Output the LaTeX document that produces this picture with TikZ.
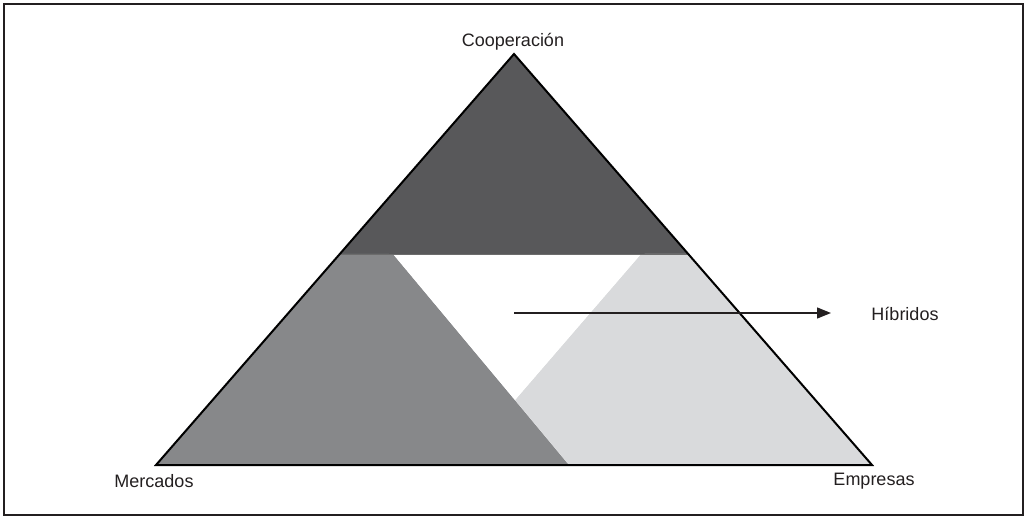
\documentclass[tikz,border=0pt]{standalone}
\usepackage{fontspec}
\setmainfont{Liberation Sans}
\usetikzlibrary{arrows.meta,calc}
\definecolor{darkg}{HTML}{58585A}
\definecolor{midg}{HTML}{87888A}
\definecolor{lightg}{HTML}{D9DADC}
\definecolor{frameg}{HTML}{231F20}
\tikzset{
  lbl/.style={font=\fontsize{18}{20}\selectfont, text=frameg, inner sep=0pt},
  edge/.style={draw=black, line width=2pt, line join=miter},
  arr/.style={draw=frameg, line width=1.3pt, -{Triangle[length=14pt,width=11pt]}}
}
\begin{document}
\begin{tikzpicture}[x=1pt,y=-1pt]
\useasboundingbox (0,0) rectangle (1026,516);
\draw[frameg, line width=2pt] (4,4) rectangle (1023,514.5);
% main vertices
\coordinate (A) at (514,54);
\coordinate (L) at (156,465);
\coordinate (R) at (872,465);
\coordinate (HL) at ($(A)!0.4866!(L)$);
\coordinate (HR) at ($(A)!0.4866!(R)$);
\coordinate (W1) at (393,254);
\coordinate (W2) at (641,254);
\coordinate (W3) at (515,400);
\coordinate (M) at (569,465);
% regions
\fill[darkg] (A) -- (HR) -- (HL) -- cycle;
\fill[midg] (HL) -- (W1) -- (M) -- (L) -- cycle;
\fill[lightg] (W2) -- (HR) -- (R) -- (M) -- (W3) -- cycle;
\fill[white] (W1) -- (W2) -- (W3) -- cycle;
\draw[color=gray!85!black, line width=0.8pt] (HL) -- (HR);
% outline
\draw[edge] (A) -- (R) -- (L) -- cycle;
% labels
\node[lbl] (coop) at (513,42) {Cooperación};
\node[lbl] (merc) at (154,481) {Mercados};
\node[lbl] (emp) at (874,481) {Empresas};
\node[lbl] (hib) at (905,314) {Híbridos};
\coordinate (s) at (514,313);
\coordinate (e) at (831,313);
\draw[arr] (s) -- (e);
\end{tikzpicture}
\end{document}
